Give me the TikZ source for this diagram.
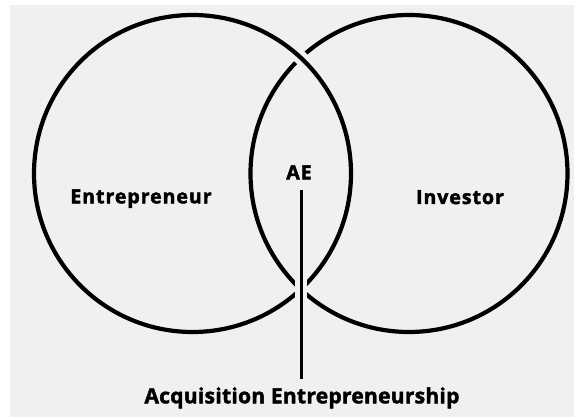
\documentclass[tikz,border=0pt]{standalone}
\usepackage{fontspec}
\setmainfont{Open Sans}
\newfontfamily\midfont{Open Sans}[LetterSpace=5,BoldFeatures={FakeBold=2.2}]
\newfontfamily\botfont{Open Sans}[LetterSpace=1.3,BoldFeatures={FakeBold=2}]
\definecolor{bggray}{HTML}{F0F0F0}
\begin{document}
\begin{tikzpicture}[x=1pt,y=-1pt,
  setline/.style={draw=black,line width=4.2pt},
  gapline/.style={draw=bggray,line width=14pt},
  lbl/.style={anchor=base,inner sep=0pt,font=\midfont\bfseries\fontsize{19.5}{22}\selectfont},
  biglbl/.style={anchor=base,inner sep=0pt,font=\botfont\bfseries\fontsize{21}{24}\selectfont},
  conn/.style={draw=black,line width=3pt}]
\useasboundingbox (0,0) rectangle (574,417);
\fill[white] (0,0) rectangle (574,417);
\fill[bggray] (10,5) rectangle (574,417);
\coordinate (ec) at (192.5,173.5);
\coordinate (ic) at (409,173.5);
% right circle first
\draw[setline] (ic) circle[radius=158.5];
% left circle passes over the right one at the top crossing
\draw[gapline] ([shift={(-55:158.5)}]ec) arc[start angle=-55,end angle=-39,radius=158.5];
\draw[setline] (ec) circle[radius=158.5];
% labels
\node[lbl] (ent) at (141,203.3) {Entrepreneur};
\node[lbl] (inv) at (460,204) {Investor};
\node[lbl] (ae) at (299,179.3) {AE};
\node[biglbl] (acq) at (302,403.3) {Acquisition Entrepreneurship};
% connector with gap in both circles at the bottom crossing
\coordinate (lt) at (301,190);
\coordinate (lb) at (301,379);
\draw[draw=bggray,line width=12pt] (301,276) -- (301,306);
\draw[conn] (lt) -- (lb);
\end{tikzpicture}
\end{document}
